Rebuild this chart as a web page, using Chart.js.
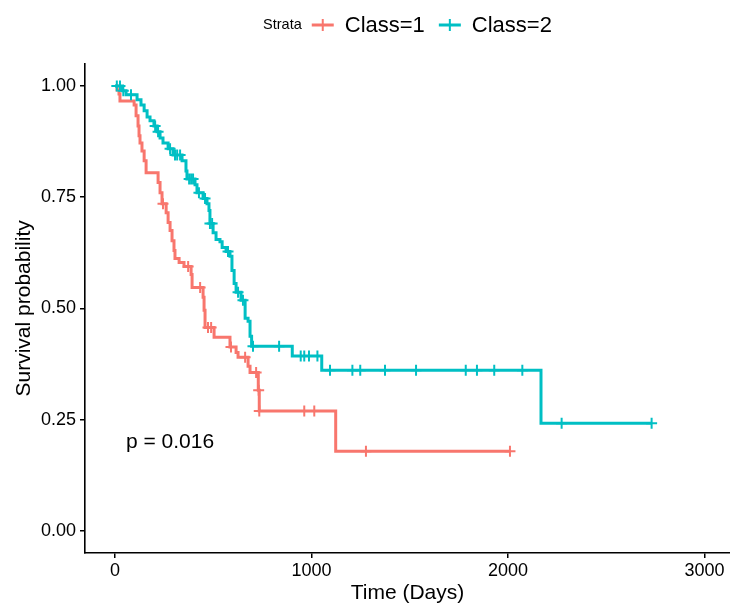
<!DOCTYPE html>
<html><head><meta charset="utf-8">
<script src="https://cdn.jsdelivr.net/npm/chart.js@4/dist/chart.umd.min.js"></script>
<style>html,body{margin:0;padding:0;background:#fff}</style>
</head><body>
<canvas id="c" width="730" height="608"></canvas>
<script>
// ---------- data ----------
const strataTitle = 'Strata';
const strataLabels = ['Class=1', 'Class=2'];
const strataColors = ['#F8766D', '#00BFC4'];

const class1Time = [0, 10, 20, 25, 97, 107, 117, 122, 127, 137, 148, 158, 219, 229, 239, 260, 270, 280, 290, 300, 305, 326, 351, 387, 392, 448, 453, 458, 504, 585, 616, 626, 677, 687, 729, 734, 1123, 2010];
const class1Surv = [1, 0.991, 0.982, 0.966, 0.957, 0.933, 0.910, 0.888, 0.872, 0.854, 0.832, 0.805, 0.783, 0.760, 0.735, 0.715, 0.693, 0.675, 0.652, 0.630, 0.612, 0.603, 0.594, 0.576, 0.547, 0.525, 0.496, 0.457, 0.435, 0.413, 0.401, 0.390, 0.370, 0.356, 0.316, 0.269, 0.179, 0.179];
const class1CensorTime = [244, 372, 433, 473, 489, 590, 662, 718, 731, 734, 963, 1014, 1277, 2010];
const class1CensorSurv = [0.735, 0.594, 0.547, 0.457, 0.457, 0.413, 0.390, 0.356, 0.316, 0.269, 0.269, 0.269, 0.179, 0.179];

const class2Time = [0, 38, 56, 112, 132, 148, 163, 178, 198, 214, 229, 244, 270, 295, 341, 361, 366, 407, 417, 448, 468, 478, 483, 499, 514, 534, 545, 565, 585, 595, 606, 616, 641, 662, 677, 687, 695, 902, 1052, 2168, 2731];
const class2Surv = [1, 0.989, 0.980, 0.969, 0.957, 0.944, 0.930, 0.922, 0.910, 0.897, 0.883, 0.872, 0.859, 0.845, 0.832, 0.809, 0.791, 0.778, 0.760, 0.747, 0.735, 0.720, 0.691, 0.670, 0.655, 0.650, 0.637, 0.628, 0.617, 0.585, 0.556, 0.536, 0.518, 0.478, 0.471, 0.437, 0.415, 0.393, 0.361, 0.2415, 0.2415];
const class2CensorTime = [9, 25, 42, 81, 204, 219, 280, 305, 316, 331, 377, 387, 397, 427, 458, 483, 494, 575, 626, 651, 702, 835, 945, 963, 987, 1030, 1094, 1208, 1248, 1374, 1532, 1785, 1842, 1930, 2073, 2273, 2731];
const class2CensorSurv = [1, 1, 0.989, 0.980, 0.910, 0.897, 0.859, 0.845, 0.845, 0.845, 0.791, 0.791, 0.791, 0.760, 0.747, 0.691, 0.691, 0.628, 0.536, 0.518, 0.415, 0.415, 0.393, 0.393, 0.393, 0.393, 0.361, 0.361, 0.361, 0.361, 0.361, 0.361, 0.361, 0.361, 0.361, 0.2415, 0.2415];

const xTicks = [0, 1000, 2000, 3000];
const yTicks = [0, 0.25, 0.5, 0.75, 1];
const xTickLabels = ['0', '1000', '2000', '3000'];
const yTickLabels = ['0.00', '0.25', '0.50', '0.75', '1.00'];
const xTitle = 'Time (Days)';
const yTitle = 'Survival probability';
const pValueText = 'p = 0.016';

// ---------- build ----------
const FONT = "'Liberation Sans', Arial, Helvetica, sans-serif";
const pts = (t, s) => t.map((v, i) => ({x: v, y: s[i]}));

function curve(t, s, color) {
  return {data: pts(t, s), showLine: true, stepped: 'before', borderColor: color,
    backgroundColor: color, borderWidth: 3, pointRadius: 0, fill: false, borderJoinStyle: 'miter', borderCapStyle: 'butt'};
}
function censors(t, s, color) {
  return {data: pts(t, s), showLine: false, pointStyle: 'cross', pointRadius: 5.5,
    borderColor: color, backgroundColor: color, pointBorderWidth: 2, borderWidth: 2};
}

const overlay = {
  id: 'overlay',
  afterDraw(chart) {
    const ctx = chart.ctx, ca = chart.chartArea;
    const xs = chart.scales.x, ys = chart.scales.y;
    ctx.save();
    // p-value
    ctx.fillStyle = '#000';
    ctx.font = '21px ' + FONT;
    ctx.textAlign = 'center';
    ctx.textBaseline = 'middle';
    ctx.fillText(pValueText, xs.getPixelForValue(280), ys.getPixelForValue(0.2));
    // legend
    const cy = 25;
    ctx.font = '14.5px ' + FONT;
    const wTitle = ctx.measureText(strataTitle).width;
    ctx.font = '22px ' + FONT;
    const wLab = strataLabels.map(l => ctx.measureText(l).width);
    const sym = 22, g1 = 10, g2 = 11, g3 = 14;
    const total = wTitle + g1 + sym + g2 + wLab[0] + g3 + sym + g2 + wLab[1];
    let x = (ca.left + ca.right) / 2 - total / 2;
    ctx.textAlign = 'left';
    ctx.font = '14.5px ' + FONT;
    ctx.fillText(strataTitle, x, cy);
    x += wTitle + g1;
    strataLabels.forEach((lab, i) => {
      ctx.strokeStyle = strataColors[i];
      ctx.lineWidth = 3;
      ctx.beginPath();
      ctx.moveTo(x, cy); ctx.lineTo(x + sym, cy);
      ctx.stroke();
      ctx.lineWidth = 2;
      ctx.beginPath();
      ctx.moveTo(x + sym / 2, cy - 6); ctx.lineTo(x + sym / 2, cy + 6);
      ctx.stroke();
      x += sym + g2;
      ctx.font = '22px ' + FONT;
      ctx.fillStyle = '#000';
      ctx.fillText(lab, x, cy + 1);
      x += wLab[i] + g3;
    });
    ctx.restore();
  }
};

new Chart(document.getElementById('c'), {
  type: 'scatter',
  data: {
    datasets: [
      curve(class2Time, class2Surv, strataColors[1]),
      censors(class2CensorTime, class2CensorSurv, strataColors[1]),
      curve(class1Time, class1Surv, strataColors[0]),
      censors(class1CensorTime, class1CensorSurv, strataColors[0])
    ]
  },
  options: {
    responsive: false,
    animation: false,
    devicePixelRatio: 1,
    layout: {autoPadding: false, padding: {top: 63.7, right: 0, left: 0, bottom: 0}},
    plugins: {legend: {display: false}, tooltip: {enabled: false}},
    scales: {
      x: {
        type: 'linear', min: -153, max: 3130,
        afterBuildTicks: s => { s.ticks = xTicks.map(v => ({value: v})); },
        afterFit: s => { s.height = 55; s.paddingLeft = 0; s.paddingRight = 0; },
        ticks: {color: '#000', font: {family: FONT, size: 18}, padding: 2, maxRotation: 0,
          callback: (v) => xTickLabels[xTicks.indexOf(v)]},
        grid: {drawOnChartArea: false, drawTicks: true, tickLength: 5, color: '#000', lineWidth: 1.5},
        border: {display: true, color: '#000', width: 1.6},
        title: {display: true, text: xTitle, color: '#000', font: {family: FONT, size: 21}, padding: {top: 0, bottom: 2}}
      },
      y: {
        type: 'linear', min: -0.05, max: 1.05,
        afterBuildTicks: s => { s.ticks = yTicks.map(v => ({value: v})); },
        afterFit: s => { s.width = 85; s.paddingTop = 0; s.paddingBottom = 0; },
        ticks: {color: '#000', font: {family: FONT, size: 18}, padding: 4,
          callback: (v) => yTickLabels[yTicks.indexOf(v)]},
        grid: {drawOnChartArea: false, drawTicks: true, tickLength: 5, color: '#000', lineWidth: 1.5},
        border: {display: true, color: '#000', width: 1.6},
        title: {display: true, text: yTitle, color: '#000', font: {family: FONT, size: 21}, padding: {top: 12, bottom: 0}}
      }
    }
  },
  plugins: [overlay]
});
</script>
</body></html>
